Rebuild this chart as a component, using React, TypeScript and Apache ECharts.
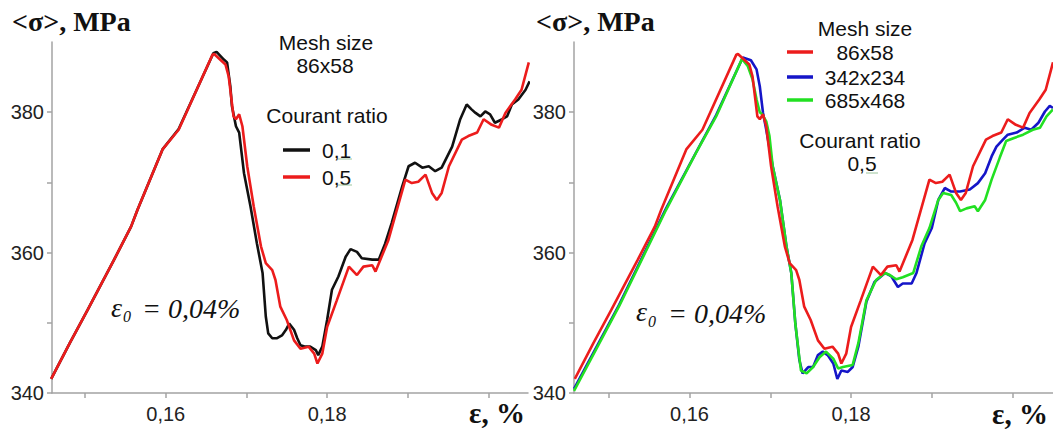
import React, { useEffect, useRef } from "react";
import * as echarts from "echarts";

// ---- Data (strain in %, mean stress in MPa) ----
const RED_STRAIN = [0.1458, 0.1481, 0.1503, 0.1536, 0.1557, 0.1565, 0.1596, 0.1616, 0.1658, 0.1660, 0.1674, 0.1678, 0.1684, 0.1687, 0.1691, 0.1695, 0.1701, 0.1709, 0.1718, 0.1724, 0.1732, 0.1736, 0.1742, 0.1750, 0.1759, 0.1767, 0.1777, 0.1784, 0.1788, 0.1794, 0.1800, 0.1812, 0.1827, 0.1837, 0.1845, 0.1856, 0.1860, 0.1876, 0.1897, 0.1905, 0.1913, 0.1922, 0.1930, 0.1936, 0.1942, 0.1951, 0.1967, 0.1975, 0.1986, 0.1994, 0.2004, 0.2013, 0.2021, 0.2033, 0.2041, 0.2050];
const RED_STRESS = [342.0, 347.1, 351.8, 359.0, 363.7, 366.1, 374.7, 377.5, 388.2, 388.3, 386.8, 385.1, 379.4, 379.0, 379.7, 378.0, 372.3, 366.6, 360.9, 358.5, 357.5, 356.1, 352.3, 350.4, 347.5, 346.3, 346.6, 345.6, 344.2, 345.6, 349.4, 353.2, 358.0, 356.8, 358.0, 358.2, 357.3, 361.8, 370.4, 369.9, 370.1, 371.1, 368.5, 367.5, 368.5, 372.3, 376.1, 376.6, 377.1, 379.0, 378.2, 377.8, 379.9, 381.8, 383.2, 387.1];

const BLACK_STRAIN = [0.1458, 0.1481, 0.1503, 0.1536, 0.1557, 0.1565, 0.1596, 0.1616, 0.1659, 0.1663, 0.1672, 0.1676, 0.1680, 0.1682, 0.1687, 0.1691, 0.1697, 0.1705, 0.1713, 0.1720, 0.1724, 0.1727, 0.1732, 0.1738, 0.1744, 0.1749, 0.1753, 0.1759, 0.1763, 0.1767, 0.1773, 0.1779, 0.1786, 0.1789, 0.1794, 0.1800, 0.1806, 0.1814, 0.1823, 0.1829, 0.1837, 0.1843, 0.1856, 0.1864, 0.1872, 0.1880, 0.1893, 0.1901, 0.1909, 0.1918, 0.1926, 0.1934, 0.1942, 0.1955, 0.1965, 0.1973, 0.1979, 0.1984, 0.1990, 0.1996, 0.2002, 0.2008, 0.2017, 0.2023, 0.2029, 0.2037, 0.2046, 0.2051];
const BLACK_STRESS = [342.0, 347.1, 351.8, 359.0, 363.7, 366.1, 374.7, 377.6, 388.4, 388.6, 387.5, 387.1, 383.7, 380.9, 378.0, 377.1, 371.3, 366.6, 361.3, 357.1, 350.9, 348.5, 347.8, 347.8, 348.2, 349.0, 349.9, 349.0, 347.8, 346.8, 346.6, 346.6, 346.1, 345.4, 346.6, 350.4, 354.7, 356.6, 359.4, 360.5, 360.1, 359.2, 359.0, 359.0, 361.3, 364.2, 369.4, 372.3, 372.8, 372.1, 372.3, 371.6, 372.1, 375.1, 379.0, 381.1, 380.4, 379.9, 379.4, 380.1, 379.7, 378.5, 379.0, 379.4, 381.1, 381.8, 383.2, 384.4];

const BLUE_STRAIN = [0.1457, 0.1513, 0.1571, 0.1633, 0.1666, 0.1676, 0.1683, 0.1687, 0.1691, 0.1695, 0.1703, 0.1712, 0.1720, 0.1726, 0.1731, 0.1736, 0.1740, 0.1747, 0.1753, 0.1759, 0.1765, 0.1771, 0.1778, 0.1783, 0.1788, 0.1796, 0.1802, 0.1809, 0.1819, 0.1829, 0.1842, 0.1850, 0.1858, 0.1864, 0.1875, 0.1881, 0.1891, 0.1900, 0.1908, 0.1916, 0.1924, 0.1935, 0.1947, 0.1957, 0.1966, 0.1974, 0.1980, 0.1988, 0.1994, 0.2005, 0.2015, 0.2023, 0.2032, 0.2040, 0.2046, 0.2050];
const BLUE_STRESS = [340.6, 352.6, 366.3, 379.6, 387.8, 387.4, 386.1, 383.7, 379.9, 377.5, 372.3, 367.5, 360.9, 357.1, 349.9, 344.7, 342.8, 343.7, 343.7, 345.4, 345.9, 345.4, 344.2, 342.0, 343.2, 343.0, 343.7, 346.6, 353.0, 355.8, 357.1, 356.6, 355.1, 355.6, 355.6, 357.1, 361.3, 363.5, 367.5, 369.2, 368.7, 368.7, 369.0, 369.9, 371.3, 373.7, 375.1, 376.1, 376.8, 377.1, 377.8, 377.5, 378.5, 380.1, 380.9, 380.6];

const GREEN_STRAIN = [0.1457, 0.1513, 0.1571, 0.1608, 0.1633, 0.1665, 0.1672, 0.1678, 0.1683, 0.1687, 0.1690, 0.1695, 0.1699, 0.1703, 0.1712, 0.1720, 0.1726, 0.1731, 0.1736, 0.1738, 0.1745, 0.1753, 0.1761, 0.1769, 0.1778, 0.1784, 0.1790, 0.1802, 0.1809, 0.1819, 0.1831, 0.1842, 0.1848, 0.1856, 0.1864, 0.1877, 0.1887, 0.1897, 0.1908, 0.1914, 0.1924, 0.1930, 0.1935, 0.1943, 0.1953, 0.1957, 0.1966, 0.1974, 0.1984, 0.1992, 0.2001, 0.2013, 0.2025, 0.2034, 0.2042, 0.2050];
const GREEN_STRESS = [340.3, 352.4, 366.1, 374.2, 379.4, 387.6, 386.6, 384.7, 381.8, 380.0, 379.7, 378.7, 376.6, 372.3, 367.5, 360.9, 357.1, 349.9, 345.0, 343.2, 342.8, 343.7, 345.1, 345.9, 344.9, 343.5, 343.7, 344.0, 347.1, 353.2, 356.1, 357.1, 356.8, 356.2, 356.5, 357.1, 360.9, 363.5, 367.5, 368.5, 368.2, 367.1, 365.9, 366.3, 366.6, 365.9, 367.5, 370.4, 373.5, 375.9, 376.3, 376.8, 377.5, 377.8, 379.4, 380.4];

const X_TICKS = [0.15, 0.16, 0.17, 0.18, 0.19, 0.2];
const X_LABELS = [0.16, 0.18];
const Y_TICKS = [340, 350, 360, 370, 380];
const Y_LABELS = [340, 360, 380];

const LEFT_SERIES_NAMES = ["0,1", "0,5"];
const RIGHT_SERIES_NAMES = ["86x58", "342x234", "685x468"];

const zip = (xs: number[], ys: number[]) => xs.map((x, i) => [x, ys[i]]);

const AXIS_COLOR = "#a3a3a3";
const LABEL_COLOR = "#222";
const SANS = "'Liberation Sans', Arial, sans-serif";
const SERIF = "'Liberation Serif', 'Times New Roman', serif";

const RED = "#ec1c1c";
const BLACK = "#111111";
const BLUE = "#1515c8";
const GREEN = "#22e022";

function xAxis(gridIndex: number, min: number, max: number) {
  return {
    type: "value",
    gridIndex,
    min,
    max,
    axisLine: { show: true, onZero: false, lineStyle: { color: AXIS_COLOR, width: 1.5 } },
    axisTick: { show: true, length: 5, customValues: X_TICKS, lineStyle: { color: AXIS_COLOR, width: 1.5 } },
    axisLabel: {
      customValues: X_LABELS,
      formatter: (v: number) => v.toFixed(2).replace(".", ","),
      color: LABEL_COLOR,
      fontSize: 20,
      fontFamily: SANS,
      margin: 11,
    },
    splitLine: { show: false },
  };
}

function yAxis(gridIndex: number) {
  return {
    type: "value",
    gridIndex,
    min: 340,
    max: 390,
    axisLine: { show: true, onZero: false, lineStyle: { color: AXIS_COLOR, width: 1.5 } },
    axisTick: { show: true, length: 5, customValues: Y_TICKS, lineStyle: { color: AXIS_COLOR, width: 1.5 } },
    axisLabel: {
      customValues: Y_LABELS,
      formatter: (v: number) => String(Math.round(v)),
      color: LABEL_COLOR,
      fontSize: 20,
      fontFamily: SANS,
      margin: 8,
    },
    splitLine: { show: false },
  };
}

function lineSeries(name: string, idx: number, xs: number[], ys: number[], color: string) {
  return {
    name,
    type: "line",
    xAxisIndex: idx,
    yAxisIndex: idx,
    data: zip(xs, ys),
    symbol: "none",
    showSymbol: false,
    lineStyle: { color, width: 2.6 },
    itemStyle: { color },
    clip: false,
    z: 3,
  };
}

function txt(text: string, x: number, y: number, opts: any = {}) {
  return {
    type: "text",
    x,
    y,
    z: 10,
    style: {
      text,
      fill: opts.fill || "#111",
      fontSize: opts.fontSize || 21,
      fontFamily: opts.fontFamily || SANS,
      fontWeight: opts.fontWeight || "normal",
      fontStyle: opts.fontStyle || "normal",
      textAlign: opts.align || "left",
      textVerticalAlign: "middle",
    },
  };
}

function seg(x1: number, x2: number, y: number, color: string, width = 3.5) {
  return {
    type: "line",
    z: 10,
    shape: { x1, y1: y, x2, y2: y },
    style: { stroke: color, lineWidth: width },
  };
}

export default function App() {
  const ref = useRef<HTMLDivElement>(null);

  useEffect(() => {
    if (!ref.current) return;
    const chart = echarts.init(ref.current, undefined, { renderer: "svg" });
    const option = {
      animation: false,
      backgroundColor: "#ffffff",
      grid: [
        { left: 52, top: 42, width: 476, height: 351 },
        { left: 574, top: 42, width: 479, height: 351 },
      ],
      xAxis: [xAxis(0, 0.1459, 0.2049), xAxis(1, 0.1457, 0.205)],
      yAxis: [yAxis(0), yAxis(1)],
      series: [
        lineSeries(LEFT_SERIES_NAMES[0], 0, BLACK_STRAIN, BLACK_STRESS, BLACK),
        lineSeries(LEFT_SERIES_NAMES[1], 0, RED_STRAIN, RED_STRESS, RED),
        lineSeries(RIGHT_SERIES_NAMES[1], 1, BLUE_STRAIN, BLUE_STRESS, BLUE),
        lineSeries(RIGHT_SERIES_NAMES[2], 1, GREEN_STRAIN, GREEN_STRESS, GREEN),
        lineSeries(RIGHT_SERIES_NAMES[0], 1, RED_STRAIN, RED_STRESS, RED),
      ],
      graphic: [
        // axis titles
        txt("<σ>, MPa", 12, 21, { fontFamily: SERIF, fontWeight: "bold", fontSize: 28 }),
        txt("<σ>, MPa", 536, 21, { fontFamily: SERIF, fontWeight: "bold", fontSize: 28 }),
        txt("ε, %", 469, 413, { fontFamily: SERIF, fontWeight: "bold", fontSize: 29 }),
        txt("ε, %", 992, 414, { fontFamily: SERIF, fontWeight: "bold", fontSize: 29 }),
        // epsilon_0 annotations
        txt("ε", 111, 307, { fontFamily: SERIF, fontStyle: "italic", fontSize: 28 }),
        txt("0", 123, 316, { fontFamily: SERIF, fontStyle: "italic", fontSize: 16 }),
        txt("= 0,04%", 142, 308, { fontFamily: SERIF, fontStyle: "italic", fontSize: 28 }),
        txt("ε", 636, 311, { fontFamily: SERIF, fontStyle: "italic", fontSize: 28 }),
        txt("0", 648, 321, { fontFamily: SERIF, fontStyle: "italic", fontSize: 16 }),
        txt("= 0,04%", 668, 313, { fontFamily: SERIF, fontStyle: "italic", fontSize: 28 }),
        // left legend
        txt("Mesh size", 326, 42, { align: "center" }),
        txt("86x58", 325, 65, { align: "center" }),
        txt("Courant ratio", 327, 115, { align: "center" }),
        seg(283, 310, 150, BLACK),
        txt("0,1", 322, 150),
        seg(283, 310, 177, RED),
        txt("0,5", 322, 177),
        seg(338, 352, 159, "#9cc59c", 1),
        seg(338, 352, 185, "#9cc59c", 1),
        // right legend
        txt("Mesh size", 865, 28, { align: "center" }),
        seg(787, 813, 52, RED),
        txt("86x58", 865, 52, { align: "center" }),
        seg(787, 813, 77, BLUE),
        txt("342x234", 865, 77, { align: "center" }),
        seg(787, 813, 100, GREEN),
        txt("685x468", 865, 100, { align: "center" }),
        txt("Courant ratio", 860, 140, { align: "center" }),
        txt("0,5", 862, 163, { align: "center" }),
        seg(866, 878, 173, "#9cc59c", 1),
      ],
    };
    chart.setOption(option as any);
    return () => chart.dispose();
  }, []);

  return (
    <div
      ref={ref}
      style={{ position: "absolute", left: 0, top: 0, width: 1053, height: 429, background: "#fff" }}
    />
  );
}
